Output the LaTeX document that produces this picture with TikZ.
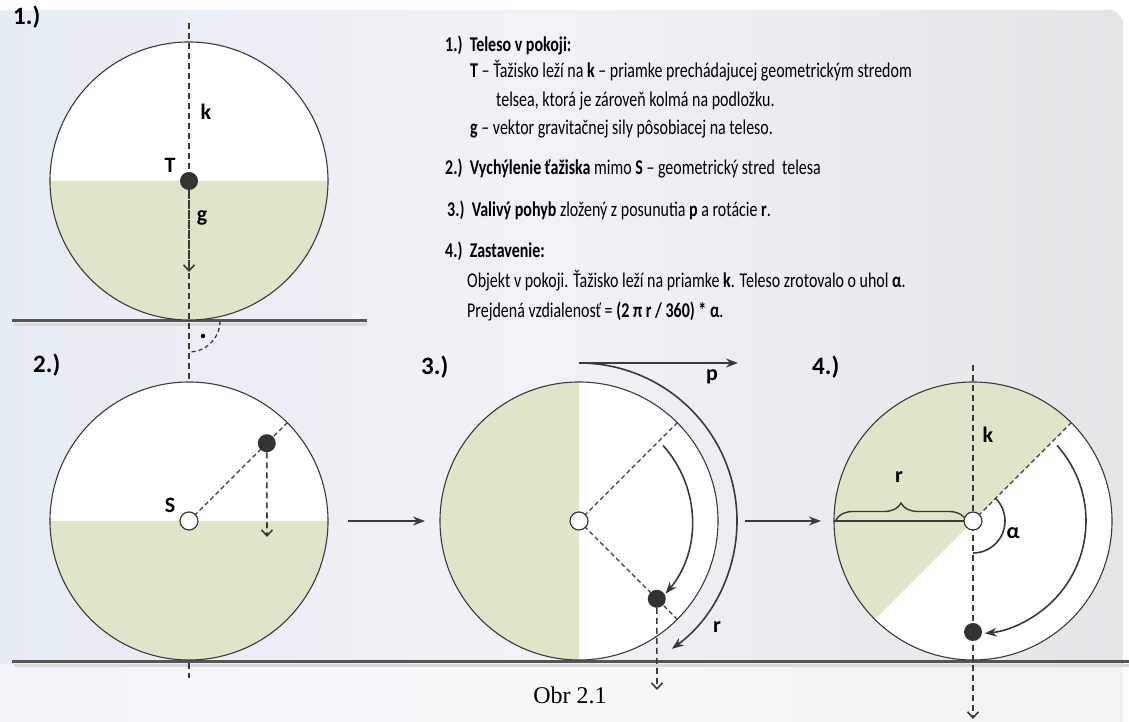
\documentclass[tikz,border=0pt]{standalone}
\usepackage{fontspec}
\setmainfont{Carlito}
\newfontfamily\txtfont[FakeStretch=0.76]{Carlito}
\newfontfamily\obrfont{Liberation Serif}
\usetikzlibrary{arrows.meta,decorations.pathreplacing}
\definecolor{linec}{HTML}{3A3A3A}
\definecolor{gfill}{RGB}{221,230,201}
\definecolor{dotc}{HTML}{333333}
\definecolor{bgl}{RGB}{230,236,244}
\definecolor{bgm}{RGB}{240,242,246}
\definecolor{bgr}{RGB}{228,229,231}
\definecolor{groundc}{HTML}{555555}
\tikzset{
  circ/.style={draw=linec, line width=1.1pt},
  gfillst/.style={fill=gfill},
  kline/.style={draw=linec, line width=1.5pt, dash pattern=on 6pt off 4pt},
  rline/.style={draw=linec, line width=1.1pt, dash pattern=on 4.5pt off 3pt},
  dasharrow/.style={draw=linec, line width=1.6pt, dash pattern=on 6pt off 4pt, -{Straight Barb[length=6pt,width=11pt,line width=1.6pt]}},
  solidarrow/.style={draw=linec, line width=1.6pt, -{Stealth[length=12pt,width=9pt]}},
  ground/.style={draw=groundc, line width=3pt},
  gshadow/.style={draw=black!15, line width=3pt},
  blackdot/.style={circle, fill=dotc, minimum size=18pt, inner sep=0pt},
  hollowdot/.style={circle, draw=linec, fill=white, minimum size=18pt, inner sep=0pt, line width=1.2pt},
  lbl/.style={font=\fontsize{22}{25}\selectfont\bfseries, text=black, inner sep=0pt},
  numlbl/.style={font=\fontsize{25}{28}\selectfont\bfseries, text=black, inner sep=0pt, anchor=west},
  txt/.style={font=\txtfont\fontsize{21}{24}\selectfont, text=black, inner sep=0pt, anchor=base west}
}
\begin{document}
\begin{tikzpicture}[x=1pt,y=1pt]
\useasboundingbox (0,0) rectangle (1129,722);
% background
\fill[white] (0,0) rectangle (1129,722);
\shade[left color=bgl, right color=bgr, middle color=bgm, rounded corners=14pt] (-20,-20) rectangle (1123,712);
\fill[white, opacity=0.5] (0,0) rectangle (1129,58);

% coordinates
\coordinate (c1) at (189,541);
\coordinate (c2) at (189,201);
\coordinate (c3) at (579,201);
\coordinate (c4) at (973,201);

% ground lines
\draw[gshadow] (14,397) -- (367,397);
\draw[ground] (12,401) -- (367,401);
\coordinate (g1) at (189,401);
\draw[gshadow] (14,56) -- (1129,56);
\draw[ground] (12,60) -- (1129,60);

% ===== Circle 1 =====
\fill[white] (c1) circle (139);
\fill[gfillst] ([xshift=-139pt]c1) arc (180:360:139) -- cycle;
\draw[circ] (c1) circle (139);
\coordinate (k1top) at (189,699);
\coordinate (k1bot) at (189,44);
\draw[kline] (k1top) -- (k1bot);
\node[blackdot] (T) at (c1) {};
\coordinate (gend) at (189,450);
\draw[dasharrow] (T) -- (gend);
\node[lbl] (Tl) at (170,557) {T};
\node[lbl] (kl1) at (206,610) {k};
\node[lbl] (gl) at (202,504) {g};
% right angle mark
\draw[draw=linec, line width=1.3pt, dash pattern=on 4pt off 3pt] ([xshift=31pt]g1) arc (0:-90:31);
\fill[black] (203,386) circle (2.2);

% ===== Circle 2 =====
\fill[white] (c2) circle (139);
\fill[gfillst] ([xshift=-139pt]c2) arc (180:360:139) -- cycle;
\draw[circ] (c2) circle (139);
\draw[rline] (c2) -- ++(45:139);
\node[blackdot] (d2) at ([shift={(45:110)}]c2) {};
\coordinate (d2end) at (267,185);
\draw[dasharrow] (d2) -- (d2end);
\node[hollowdot] (S) at (c2) {};
\node[lbl] (Sl) at (170,217) {S};

% arrows between circles
\coordinate (a1s) at (348,201);
\coordinate (a1e) at (425,201);
\draw[solidarrow] (a1s) -- (a1e);
\coordinate (a2s) at (745,201);
\coordinate (a2e) at (821,201);
\draw[solidarrow] (a2s) -- (a2e);

% ===== Circle 3 =====
\fill[white] (c3) circle (139);
\fill[gfillst] ([yshift=139pt]c3) arc (90:270:139) -- cycle;
\draw[circ] (c3) circle (139);
\draw[rline] (c3) -- ++(45:139);
\draw[rline] (c3) -- ++(-45:139);
\node[blackdot] (d3) at ([shift={(-45:110)}]c3) {};
\coordinate (d3end) at (657,32);
\draw[dasharrow] (d3) -- (d3end);
\node[hollowdot] (S3) at (c3) {};
\draw[solidarrow] ([shift={(42:113)}]c3) arc (42:-40:113);
\coordinate (pstart) at (579,359);
\coordinate (pend) at (738,359);
\draw[solidarrow] (pstart) -- (pend);
\draw[solidarrow] (pstart) arc (90:-54:158);
\node[lbl] (pl) at (712,345) {p};
\node[lbl] (rl3) at (717,95) {r};

% ===== Circle 4 =====
\fill[white] (c4) circle (139);
\fill[gfillst] (c4) -- ++(45:139) arc (45:225:139) -- cycle;
\draw[circ] (c4) circle (139);
\coordinate (k4top) at (973,357);
\coordinate (k4bot) at (973,3);
\draw[dasharrow] (k4top) -- (k4bot);
\draw[rline, line width=1.3pt] (c4) -- ++(45:139);
\coordinate (l4) at (834,201);
\draw[draw=linec, line width=1.5pt] (c4) -- (l4);
\draw[draw=linec, line width=1.4pt, decorate, decoration={brace, amplitude=17pt, raise=1pt}] (836,201) -- (966,201);
\node[lbl] (rl4) at (899,245) {r};
\node[blackdot] (d4) at (973,90) {};
\node[hollowdot] (S4) at (c4) {};
\draw[solidarrow] ([shift={(42:113)}]c4) arc (42:-84:113);
\draw[draw=linec, line width=1.6pt] ([shift={(45:32)}]c4) arc (45:-90:32);
\node[lbl] (al) at (1013,189) {α};
\node[lbl] (kl4) at (988,287) {k};

% step numbers
\node[numlbl] (n1) at (13,705) {1.)};
\node[numlbl] (n2) at (33,357) {2.)};
\node[numlbl] (n3) at (421,355) {3.)};
\node[numlbl] (n4) at (812,355) {4.)};

% text block
\node[txt] (t1) at (445,670) {\textbf{1.)\ \ Teleso v pokoji:}};
\node[txt] (t2) at (470,644) {\textbf{T} – Ťažisko leží na \textbf{k} – priamke prechádajucej geometrickým stredom};
\node[txt] (t3) at (496,615) {telsea, ktorá je zároveň kolmá na podložku.};
\node[txt] (t4) at (470,587) {\textbf{g} – vektor gravitačnej sily pôsobiacej na teleso.};
\node[txt] (t5) at (445,547) {\textbf{2.)\ \ Vychýlenie ťažiska} mimo \textbf{S} – geometrický stred\ \ telesa};
\node[txt] (t6) at (447,505) {\textbf{3.)\ \ Valivý pohyb} zložený z posunutia \textbf{p} a rotácie \textbf{r}.};
\node[txt] (t7) at (445,464) {\textbf{4.)\ \ Zastavenie:}};
\node[txt] (t8) at (467,434) {Objekt v pokoji. Ťažisko leží na priamke \textbf{k}. Teleso zrotovalo o uhol \textbf{α}.};
\node[txt] (t9) at (467,404) {Prejdená vzdialenosť = \textbf{(2 π r / 360) * α}.};

\node[font=\obrfont\fontsize{24}{28}\selectfont, inner sep=0pt] (obr) at (570,27) {Obr 2.1};
\end{tikzpicture}
\end{document}
